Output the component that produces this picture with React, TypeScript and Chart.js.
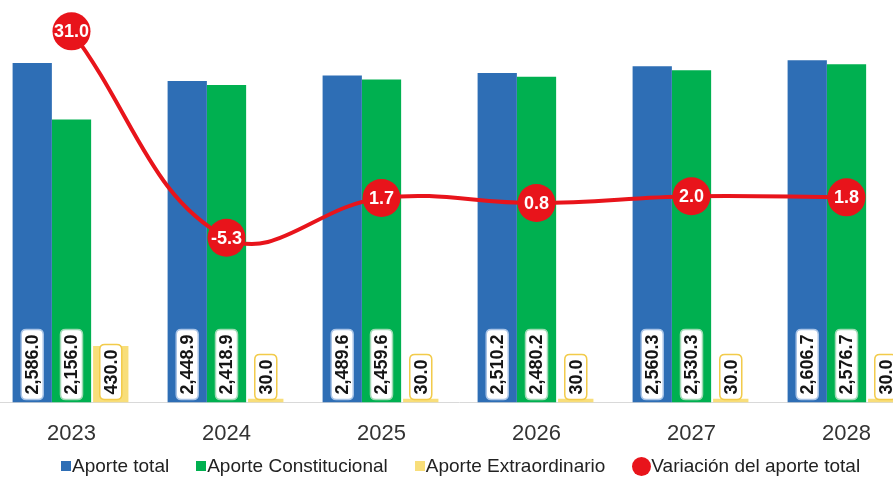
import React, { useEffect, useRef } from "react";
import { Chart, registerables } from "chart.js";

Chart.register(...registerables);

const years = ["2023", "2024", "2025", "2026", "2027", "2028"];
const aporteTotal = [2586.0, 2448.9, 2489.6, 2510.2, 2560.3, 2606.7];
const aporteConstitucional = [2156.0, 2418.9, 2459.6, 2480.2, 2530.3, 2576.7];
const aporteExtraordinario = [430.0, 30.0, 30.0, 30.0, 30.0, 30.0];
const variacionTotal = [31.0, -5.3, 1.7, 0.8, 2.0, 1.8];

const seriesNames = [
  "Aporte total",
  "Aporte Constitucional",
  "Aporte Extraordinario",
  "Variación del aporte total",
];

const BLUE = "#2E6EB5";
const GREEN = "#00B050";
const YELLOW = "#F8DE7A";
const YELLOW_BORDER = "#F2CB4A";
const RED = "#E8141B";
const FONT = '"Liberation Sans", Arial, Helvetica, sans-serif';

const fmt = (v: number) =>
  v.toLocaleString("en-US", { minimumFractionDigits: 1, maximumFractionDigits: 1 });

function roundRect(ctx: CanvasRenderingContext2D, x: number, y: number, w: number, h: number, r: number) {
  ctx.beginPath();
  ctx.moveTo(x + r, y);
  ctx.lineTo(x + w - r, y);
  ctx.quadraticCurveTo(x + w, y, x + w, y + r);
  ctx.lineTo(x + w, y + h - r);
  ctx.quadraticCurveTo(x + w, y + h, x + w - r, y + h);
  ctx.lineTo(x + r, y + h);
  ctx.quadraticCurveTo(x, y + h, x, y + h - r);
  ctx.lineTo(x, y + r);
  ctx.quadraticCurveTo(x, y, x + r, y);
  ctx.closePath();
}

const labelPlugin = {
  id: "valueLabels",
  afterDatasetsDraw(chart: any) {
    const ctx: CanvasRenderingContext2D = chart.ctx;
    chart.data.datasets.forEach((ds: any, di: number) => {
      const meta = chart.getDatasetMeta(di);
      if (meta.hidden) return;
      if (meta.type === "bar") {
        meta.data.forEach((el: any, i: number) => {
          const text = fmt(ds.data[i]);
          ctx.save();
          ctx.font = `bold 18px ${FONT}`;
          const tw = ctx.measureText(text).width;
          const boxH = tw + 10;
          const boxW = 22;
          const bottom = el.base - 3;
          roundRect(ctx, el.x - boxW / 2, bottom - boxH, boxW, boxH, 5);
          ctx.fillStyle = "#FFFFFF";
          ctx.fill();
          ctx.lineWidth = 1.5;
          ctx.strokeStyle = ds.labelBorder;
          ctx.stroke();
          ctx.translate(el.x, bottom - boxH / 2);
          ctx.rotate(-Math.PI / 2);
          ctx.fillStyle = "#151515";
          ctx.textAlign = "center";
          ctx.textBaseline = "middle";
          ctx.fillText(text, 0, 1);
          ctx.restore();
        });
      } else if (meta.type === "line") {
        meta.data.forEach((el: any, i: number) => {
          ctx.save();
          ctx.font = `bold 18px ${FONT}`;
          ctx.fillStyle = "#FFFFFF";
          ctx.textAlign = "center";
          ctx.textBaseline = "middle";
          ctx.fillText(fmt(ds.data[i]), el.x, el.y + 1);
          ctx.restore();
        });
      }
    });
  },
};

export default function App() {
  const canvasRef = useRef<HTMLCanvasElement | null>(null);

  useEffect(() => {
    if (!canvasRef.current) return;
    const chart = new Chart(canvasRef.current, {
      type: "bar",
      data: {
        labels: years,
        datasets: [
          {
            type: "line",
            label: seriesNames[3],
            data: variacionTotal,
            yAxisID: "y1",
            borderColor: RED,
            backgroundColor: RED,
            borderWidth: 4,
            tension: 0.4,
            pointRadius: 19,
            pointHoverRadius: 19,
            pointBackgroundColor: RED,
            pointBorderWidth: 0,
            clip: false,
            order: 0,
          } as any,
          {
            label: seriesNames[0],
            data: aporteTotal,
            backgroundColor: BLUE,
            labelBorder: "#A9C4E6",
            yAxisID: "y",
            order: 1,
          } as any,
          {
            label: seriesNames[1],
            data: aporteConstitucional,
            backgroundColor: GREEN,
            labelBorder: "#9ED9B4",
            yAxisID: "y",
            order: 1,
          } as any,
          {
            label: seriesNames[2],
            data: aporteExtraordinario,
            backgroundColor: YELLOW,
            labelBorder: YELLOW_BORDER,
            barPercentage: 0.9,
            yAxisID: "y",
            order: 1,
          } as any,
        ],
      },
      options: {
        animation: false,
        responsive: true,
        maintainAspectRatio: false,
        layout: { autoPadding: false, padding: { top: 20, bottom: 12, left: 0, right: 0 } },
        datasets: {
          bar: { barPercentage: 1, categoryPercentage: 0.76 },
        },
        plugins: {
          legend: { display: false },
          tooltip: { enabled: false },
        },
        scales: {
          x: {
            grid: { display: false, drawTicks: false },
            border: { display: true, color: "#D9D9D9", width: 1 },
            ticks: {
              color: "#333333",
              font: { family: FONT, size: 22 },
              padding: 18,
            },
          },
          y: {
            display: false,
            min: 0,
            max: 2913,
          },
          y1: {
            display: false,
            min: -34.3,
            max: 33.0,
          },
        },
      } as any,
      plugins: [labelPlugin],
    });
    return () => chart.destroy();
  }, []);

  const legendItems = [
    { name: seriesNames[0], color: BLUE, round: false },
    { name: seriesNames[1], color: GREEN, round: false },
    { name: seriesNames[2], color: YELLOW, round: false },
    { name: seriesNames[3], color: RED, round: true },
  ];

  return (
    <div
      style={{
        position: "fixed",
        left: 0,
        top: 0,
        width: 893,
        height: 477,
        overflow: "hidden",
        background: "#FFFFFF",
      }}
    >
      <div style={{ position: "absolute", left: -6, top: 0, width: 930, height: 477 }}>
        <canvas ref={canvasRef} />
      </div>
      <div
        style={{
          position: "absolute",
          left: 61,
          top: 454,
          display: "flex",
          alignItems: "center",
          fontFamily: FONT,
          fontSize: 19,
          color: "#222222",
          whiteSpace: "nowrap",
          lineHeight: "24px",
        }}
      >
        {legendItems.map((it, i) => (
          <div key={i} style={{ display: "flex", alignItems: "center", marginRight: 27 }}>
            <span
              style={{
                display: "inline-block",
                width: it.round ? 19 : 10,
                height: it.round ? 19 : 10,
                borderRadius: it.round ? "50%" : 0,
                background: it.color,
                marginRight: it.round ? 0 : 1,
              }}
            />
            <span>{it.name}</span>
          </div>
        ))}
      </div>
    </div>
  );
}
